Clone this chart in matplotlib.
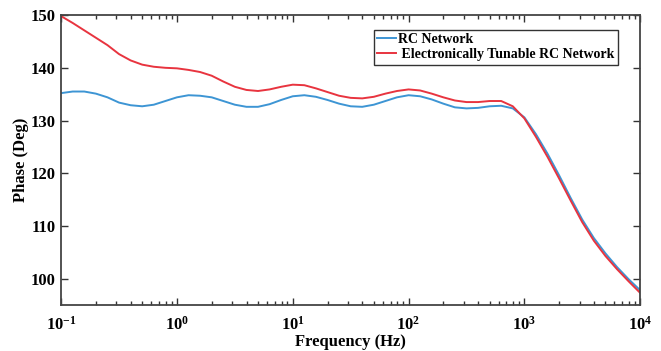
import matplotlib
matplotlib.use("Agg")
import matplotlib.pyplot as plt
import numpy as np
from matplotlib.ticker import LogLocator, FixedLocator, NullFormatter

plt.rcParams["font.family"] = ["Liberation Serif", "DejaVu Serif"]
plt.rcParams["font.weight"] = "bold"
plt.rcParams["mathtext.fontset"] = "custom"
plt.rcParams["mathtext.rm"] = "Liberation Serif:bold"
plt.rcParams["mathtext.it"] = "Liberation Serif:bold"
plt.rcParams["mathtext.bf"] = "Liberation Serif:bold"

# frequency sweep, in decades (log10 of Hz)
decades = [
    -1.0, -0.9, -0.8, -0.7, -0.6, -0.5, -0.4, -0.3, -0.2, -0.1,
    0.0, 0.1, 0.2, 0.3, 0.4, 0.5, 0.6, 0.7, 0.8, 0.9,
    1.0, 1.1, 1.2, 1.3, 1.4, 1.5, 1.6, 1.7, 1.8, 1.9,
    2.0, 2.1, 2.2, 2.3, 2.4, 2.5, 2.6, 2.7, 2.8, 2.9,
    3.0, 3.1, 3.2, 3.3, 3.4, 3.5, 3.6, 3.7, 3.8, 3.9, 4.0,
]

# phase of the plain RC network (deg)
phase_rc = [
    135.2, 135.5, 135.5, 135.1, 134.4, 133.4, 132.9, 132.7, 133.0, 133.7,
    134.4, 134.8, 134.7, 134.4, 133.7, 133.0, 132.6, 132.6, 133.1, 133.9,
    134.6, 134.8, 134.5, 133.9, 133.2, 132.7, 132.6, 133.0, 133.7, 134.4,
    134.8, 134.6, 134.0, 133.2, 132.5, 132.3, 132.4, 132.7, 132.8, 132.3,
    130.6, 127.4, 123.7, 119.6, 115.3, 111.2, 107.7, 104.8, 102.2, 99.9, 97.8,
]

# phase of the electronically tunable RC network (deg)
phase_tunable = [
    149.8, 148.5, 147.1, 145.7, 144.3, 142.6, 141.4, 140.6, 140.2, 140.0,
    139.9, 139.6, 139.2, 138.5, 137.4, 136.4, 135.8, 135.6, 135.9, 136.4,
    136.8, 136.7, 136.1, 135.4, 134.7, 134.3, 134.2, 134.5, 135.1, 135.6,
    135.9, 135.7, 135.1, 134.4, 133.8, 133.5, 133.5, 133.7, 133.7, 132.7,
    130.4, 126.9, 123.1, 119.0, 114.8, 110.7, 107.2, 104.3, 101.8, 99.5, 97.3,
]

labels = ["RC Network", " Electronically Tunable RC Network"]
xtick_vals = [1e-1, 1e0, 1e1, 1e2, 1e3, 1e4]
xtick_text = [r"$10^{-1}$", r"$10^{0}$", r"$10^{1}$", r"$10^{2}$", r"$10^{3}$", r"$10^{4}$"]
ytick_vals = [100, 110, 120, 130, 140, 150]

freq_hz = 10 ** np.array(decades)

fig = plt.figure(figsize=(6.61, 3.51), dpi=100)
ax = fig.add_axes([0.0925, 0.131, 0.876, 0.826])

ax.plot(freq_hz, phase_rc, color="#3d95d4", lw=1.4, label=labels[0])
ax.plot(freq_hz, phase_tunable, color="#e8343f", lw=1.4, label=labels[1])

ax.set_xscale("log")
ax.set_xlim(1e-1, 1e4)
ax.set_ylim(95, 150)

ax.xaxis.set_major_locator(FixedLocator(xtick_vals))
ax.set_xticklabels(xtick_text, fontsize=12)
ax.xaxis.set_minor_locator(LogLocator(base=10, subs=np.arange(2, 10), numticks=20))
ax.xaxis.set_minor_formatter(NullFormatter())
ax.set_yticks(ytick_vals)
ax.set_yticklabels([str(v) for v in ytick_vals], fontsize=12, fontweight="bold")

ax.tick_params(which="both", direction="in", top=True, right=True, color="#333333")
ax.tick_params(which="major", length=5, width=1.0, pad=4)
ax.tick_params(which="minor", length=3, width=1.0)
ax.tick_params(axis="x", which="major", pad=8)
for sp in ax.spines.values():
    sp.set_linewidth(1.3)
    sp.set_color("#444444")

ax.set_xlabel("Frequency (Hz)", fontsize=12, fontweight="bold", labelpad=0)
ax.set_ylabel("Phase (Deg)", fontsize=12, fontweight="bold", labelpad=1)

leg = ax.legend(loc="upper right", bbox_to_anchor=(0.962, 0.95), borderaxespad=0,
                fancybox=False, edgecolor="#333333", framealpha=1,
                prop={"family": "Liberation Serif", "weight": "bold", "size": 10},
                handlelength=1.3, handletextpad=0.2, borderpad=0.25, labelspacing=0.15)
leg.get_frame().set_linewidth(1.0)

fig.savefig("out.png", dpi=100)
